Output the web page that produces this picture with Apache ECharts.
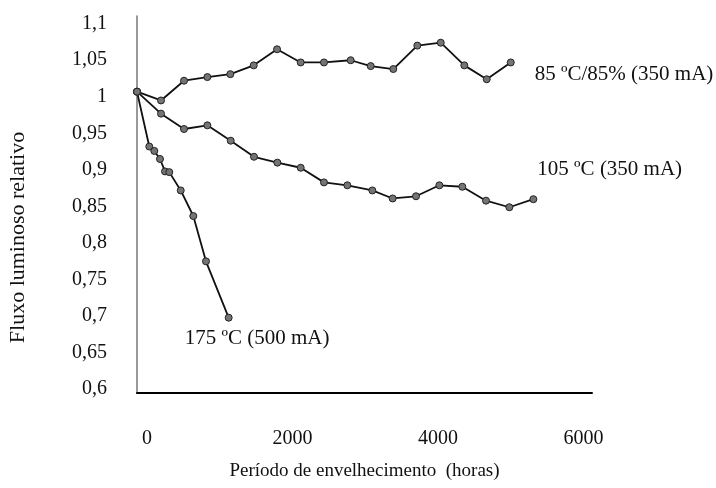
<!DOCTYPE html>
<html>
<head>
<meta charset="utf-8">
<script src="https://cdn.jsdelivr.net/npm/echarts@6/dist/echarts.min.js"></script>
<style>
html,body{margin:0;padding:0;background:#fff;}
#chart{width:716px;height:488px;}
</style>
</head>
<body>
<div id="chart"></div>
<script>
// Data (hours, relative luminous flux)
const hours85 = [0, 330, 646, 967, 1283, 1604, 1925, 2250, 2570, 2937, 3212, 3523, 3853, 4175, 4499, 4807, 5137];
const flux85  = [1.0, 0.988, 1.015, 1.020, 1.024, 1.036, 1.058, 1.040, 1.040, 1.043, 1.035, 1.031, 1.063, 1.067, 1.036, 1.017, 1.040];

const hours105 = [0, 330, 646, 967, 1288, 1608, 1929, 2250, 2570, 2891, 3235, 3514, 3835, 4156, 4472, 4797, 5118, 5448];
const flux105  = [1.0, 0.970, 0.949, 0.954, 0.933, 0.911, 0.903, 0.896, 0.876, 0.872, 0.865, 0.854, 0.857, 0.872, 0.870, 0.851, 0.842, 0.853];

const hours175 = [0, 169, 238, 316, 385, 444, 601, 774, 948, 1260];
const flux175  = [1.0, 0.925, 0.919, 0.908, 0.891, 0.890, 0.865, 0.830, 0.768, 0.691];

const seriesNames = ['85 ºC/85% (350 mA)', '105 ºC (350 mA)', '175 ºC (500 mA)'];
const yTicks = [0.6, 0.65, 0.7, 0.75, 0.8, 0.85, 0.9, 0.95, 1, 1.05, 1.1];
const xTicks = [0, 2000, 4000, 6000];
const xTitle = 'Período de envelhecimento  (horas)';
const yTitle = 'Fluxo luminoso relativo';

const pairs = (xs, ys) => xs.map((x, i) => [x, ys[i]]);
const FONT = '"Liberation Serif", "Times New Roman", serif';

const commonSeries = {
  type: 'line',
  symbol: 'circle',
  symbolSize: 7,
  lineStyle: { color: '#111', width: 1.8 },
  itemStyle: { color: '#747474', borderColor: '#222', borderWidth: 1 },
  animation: false
};

const endLabel = (text, offset) => ({
  show: true, formatter: text, fontFamily: FONT, fontSize: 21, color: '#111', offset: offset
});

const chart = echarts.init(document.getElementById('chart'), null, { renderer: 'canvas' });
chart.setOption({
  backgroundColor: '#fff',
  animation: false,
  grid: { left: 137, right: 124, top: 16, bottom: 95, outerBoundsMode: 'none', containLabel: false },
  xAxis: {
    type: 'value',
    min: 0,
    max: 6254,
    name: xTitle,
    nameLocation: 'middle',
    nameGap: 69,
    nameTextStyle: { fontFamily: FONT, fontSize: 19, color: '#111' },
    axisLine: { lineStyle: { color: '#000', width: 2 } },
    axisTick: { show: false },
    splitLine: { show: false },
    axisLabel: {
      customValues: xTicks,
      formatter: v => String(v),
      fontFamily: FONT, fontSize: 20, color: '#111',
      margin: 36,
      padding: [0, 0, 0, 20]
    }
  },
  yAxis: {
    type: 'value',
    min: 0.588,
    max: 1.1035,
    name: yTitle,
    nameLocation: 'middle',
    nameGap: 108,
    nameTextStyle: { fontFamily: FONT, fontSize: 22, color: '#111', padding: [0, 66, 0, 0] },
    axisLine: { show: true, lineStyle: { color: '#777', width: 1.5 } },
    axisTick: { show: false },
    splitLine: { show: false },
    axisLabel: {
      customValues: yTicks,
      formatter: v => String(v).replace('.', ','),
      fontFamily: FONT, fontSize: 20, color: '#111',
      margin: 30,
      verticalAlign: 'top',
      lineHeight: 10
    }
  },
  series: [
    Object.assign({}, commonSeries, {
      name: seriesNames[0],
      data: pairs(hours85, flux85),
      endLabel: endLabel(seriesNames[0], [16, 12])
    }),
    Object.assign({}, commonSeries, {
      name: seriesNames[1],
      data: pairs(hours105, flux105),
      endLabel: endLabel(seriesNames[1], [-4, -30])
    }),
    Object.assign({}, commonSeries, {
      name: seriesNames[2],
      data: pairs(hours175, flux175),
      endLabel: endLabel(seriesNames[2], [-52, 21])
    })
  ]
});
</script>
</body>
</html>
